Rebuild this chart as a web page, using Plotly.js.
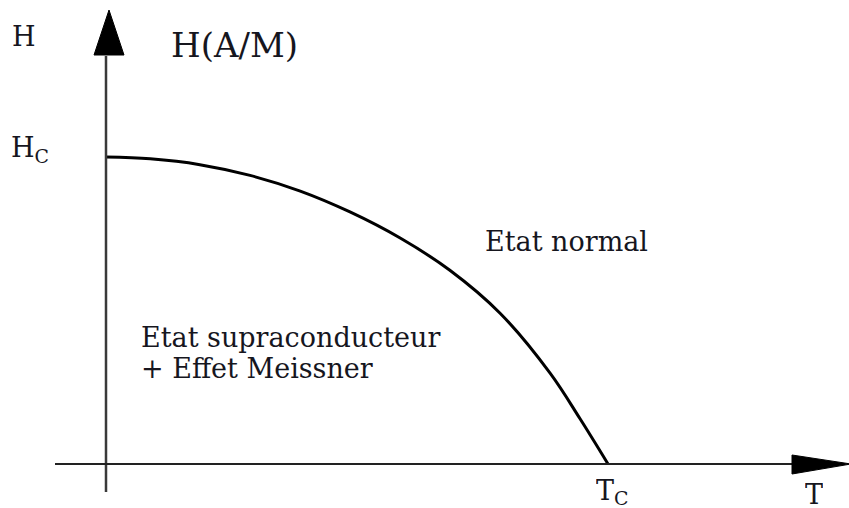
<!DOCTYPE html>
<html>
<head>
<meta charset="utf-8">
<script src="https://cdn.plot.ly/plotly-3.0.1.min.js"></script>
<style>html,body{margin:0;padding:0;background:#fff;}#chart{width:849px;height:508px;}</style>
</head>
<body>
<div id="chart"></div>
<script>
// Critical field curve H(T), normalised: T / Tc and H / Hc
const temperature = [0, 0.088, 0.187, 0.287, 0.387, 0.486, 0.586, 0.685, 0.785, 0.885, 0.944, 1.0];
const fieldH      = [1.0, 0.994, 0.975, 0.940, 0.889, 0.821, 0.736, 0.631, 0.491, 0.295, 0.148, 0.0];

// Labels
const yAxisLetter = "H";
const yAxisUnit = "H(A/M)";
const hcLabel = "H<sub>C</sub>";
const tcLabel = "T<sub>C</sub>";
const xAxisLetter = "T";
const normalLabel = "Etat normal";
const supraLine1 = "Etat supraconducteur";
const supraLine2 = "+ Effet Meissner";

// Layout calibration (pixel positions of T=0, T=Tc, H=0, H=Hc)
const W = 849, Hgt = 508;
const PX_T0 = 106, PX_TC = 608, PY_H0 = 464, PY_HC = 157;
const tx = px => (px - PX_T0) / (PX_TC - PX_T0);
const hy = py => (PY_H0 - py) / (PY_H0 - PY_HC);

const serif = "DejaVu Serif";
const txtColor = "#16161e";
const small = 27;

function label(text, px, py, size, xanchor, boxH) {
  const a = {
    text: text, x: tx(px), y: hy(py), xref: "x", yref: "y",
    showarrow: false, xanchor: xanchor || "left", yanchor: "middle",
    borderpad: 0,
    font: {family: serif, size: size, color: txtColor}
  };
  if (boxH) a.height = boxH;
  return a;
}

const trace = {
  x: temperature, y: fieldH, type: "scatter", mode: "lines",
  line: {color: "#000", width: 3, shape: "spline", smoothing: 1, simplify: false},
  hoverinfo: "skip"
};

const shapes = [
  // y axis line
  {type: "line", xref: "x", yref: "y", x0: 0, x1: 0, y0: hy(492), y1: hy(56),
   line: {color: "#3a3a3a", width: 2.5}},
  // y axis arrowhead
  {type: "path", xref: "x", yref: "y",
   path: `M ${tx(94)} ${hy(55)} L ${tx(109)} ${hy(10)} L ${tx(124)} ${hy(55)} Z`,
   fillcolor: "#000", line: {color: "#000", width: 1}},
  // x axis line
  {type: "line", xref: "x", yref: "y", x0: tx(55), x1: tx(793), y0: 0, y1: 0,
   line: {color: "#222", width: 2}},
  // x axis arrowhead
  {type: "path", xref: "x", yref: "y",
   path: `M ${tx(792)} ${hy(455)} L ${tx(851)} ${hy(464)} L ${tx(792)} ${hy(474)} Z`,
   fillcolor: "#000", line: {color: "#000", width: 1}}
];

const annotations = [
  label(yAxisLetter, 11, 36, small),
  label(yAxisUnit, 170, 45, 34),
  label(hcLabel, 10, 149, small),
  label(normalLabel, 484, 241, small),
  label(supraLine1, 140, 337, small),
  label(supraLine2, 140, 368, small),
  label(tcLabel, 595, 492, small, "left", 28),
  label(xAxisLetter, 814, 494, small, "center", 24)
];

const layout = {
  width: W, height: Hgt, autosize: false,
  margin: {l: 0, r: 0, t: 0, b: 0, pad: 0},
  paper_bgcolor: "#fff", plot_bgcolor: "#fff",
  showlegend: false,
  xaxis: {range: [tx(0), tx(W)], visible: false, fixedrange: true},
  yaxis: {range: [hy(Hgt), hy(0)], visible: false, fixedrange: true},
  shapes: shapes,
  annotations: annotations
};

Plotly.newPlot("chart", [trace], layout, {staticPlot: true, displayModeBar: false});
</script>
</body>
</html>
